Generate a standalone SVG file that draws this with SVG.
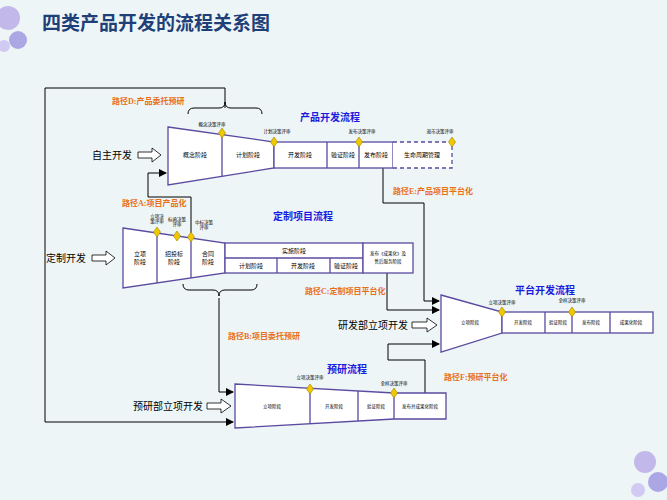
<svg xmlns="http://www.w3.org/2000/svg" width="667" height="500" viewBox="0 0 667 500">
<defs>
<marker id="ar" markerWidth="8" markerHeight="8" refX="7" refY="4" orient="auto" markerUnits="userSpaceOnUse"><path d="M0,0 L8,4 L0,8 z" fill="#000"/></marker>
<style>
.sh{fill:#fff;stroke:#5a4aa0;stroke-width:1.3}
.dv{stroke:#5a4aa0;stroke-width:1.3}
.t{font-family:"Liberation Serif","Noto Sans CJK SC",serif;font-size:6px;text-anchor:middle;fill:#000}
.s{font-family:"Liberation Serif","Noto Sans CJK SC",serif;font-size:4.5px;text-anchor:middle;fill:#000}
.ti{font-family:"Liberation Serif","Noto Sans CJK SC",serif;font-size:10px;font-weight:bold;text-anchor:middle;fill:#1a1ae0}
.p{font-family:"Liberation Serif","Noto Sans CJK SC",serif;font-size:8px;font-weight:bold;fill:#e8701a}
.in{font-family:"Liberation Serif","Noto Sans CJK SC",serif;font-size:10px;text-anchor:end;fill:#000}
.ln{fill:none;stroke:#000;stroke-width:1}
.dm{fill:#f0c800;stroke:#a08000;stroke-width:0.6}
.ha{fill:#fff;stroke:#000;stroke-width:0.8}
</style>
</defs>
<rect width="667" height="500" fill="#eef5f7"/>
<g id="decor">
<circle cx="8" cy="18" r="12" fill="#b7a9e6" opacity="0.8"/>
<circle cx="18" cy="40" r="9" fill="#8f86dc" opacity="0.7"/>
<circle cx="4" cy="46" r="6" fill="#c9bff0" opacity="0.8"/>
<circle cx="645" cy="462" r="11" fill="#b7a9e6" opacity="0.8"/>
<circle cx="658" cy="482" r="10" fill="#8f86dc" opacity="0.7"/>
<circle cx="638" cy="490" r="7" fill="#c9bff0" opacity="0.8"/>
</g>
<text x="42" y="30" font-family="'Noto Sans CJK SC',sans-serif" font-size="19" font-weight="bold" fill="#1f3f78">四类产品开发的流程关系图</text>

<g id="connectors">
<path class="ln" d="M225,108 V88 H45 V422 H233" marker-end="url(#ar)"/>
<path class="ln" d="M191,237 V197 H148 V173 H166" marker-end="url(#ar)"/>
<path class="ln" d="M219,298 V392 H233" marker-end="url(#ar)"/>
<path class="ln" d="M383,168 V203 H424 V301 H439" marker-end="url(#ar)"/>
<path class="ln" d="M387,273 V310 H439" marker-end="url(#ar)"/>
<path class="ln" d="M425,393 V360 H388 V344 H439" marker-end="url(#ar)"/>
<path class="ln" d="M188,114 Q188,108 194,108 H219 Q225,108 225,102 Q225,108 231,108 H256 Q262,108 262,114"/>
<path class="ln" d="M183,284 Q183,290 189,290 H213 Q219,290 219,296 Q219,290 225,290 H251 Q257,290 257,284"/>
</g>

<g id="labels">
<text class="p" x="112" y="104">路径D:产品委托预研</text>
<text class="p" x="122" y="206">路径A:项目产品化</text>
<text class="p" x="228" y="339">路径B:项目委托预研</text>
<text class="p" x="305" y="294">路径C:定制项目平台化</text>
<text class="p" x="393" y="194">路径E:产品项目平台化</text>
<text class="p" x="444" y="380">路径F:预研平台化</text>
</g>

<g id="product">
<text class="ti" x="330" y="121">产品开发流程</text>
<path class="sh" d="M168,127 L274,142 V168 L168,185 Z"/>
<line class="dv" x1="222" y1="134" x2="222" y2="177"/>
<rect class="sh" x="274" y="142" width="119" height="26"/>
<line class="dv" x1="327" y1="142" x2="327" y2="168"/>
<line class="dv" x1="359" y1="142" x2="359" y2="168"/>
<path d="M393,142 H452 V168 H393" fill="#fff" stroke="#5a4aa0" stroke-width="1.3" stroke-dasharray="4,3"/>
<text class="t" x="195" y="157">概念阶段</text>
<text class="t" x="248" y="157">计划阶段</text>
<text class="t" x="300" y="157">开发阶段</text>
<text class="t" x="343" y="157">验证阶段</text>
<text class="t" x="376" y="157">发布阶段</text>
<text class="t" x="422" y="157">生命周期管理</text>
<text class="s" x="212" y="126">概念决策评审</text>
<text class="s" x="277" y="133">计划决策评审</text>
<text class="s" x="362" y="133">发布决策评审</text>
<text class="s" x="440" y="133">退市决策评审</text>
<path class="dm" d="M222,128 l3.5,5 -3.5,5 -3.5,-5z"/>
<path class="dm" d="M274,137 l3.5,5 -3.5,5 -3.5,-5z"/>
<path class="dm" d="M359,137 l3.5,5 -3.5,5 -3.5,-5z"/>
<path class="dm" d="M452,137 l3.5,5 -3.5,5 -3.5,-5z"/>
<text class="in" x="132" y="159">自主开发</text>
<path class="ha" d="M138,152 H152 V148 L161,155 L152,162 V158 H138 Z"/>
</g>

<g id="custom">
<text class="ti" x="303" y="220">定制项目流程</text>
<path class="sh" d="M123,228 L225,243 V273 L123,288 Z"/>
<line class="dv" x1="157" y1="233" x2="157" y2="283"/>
<line class="dv" x1="191" y1="238" x2="191" y2="278"/>
<rect class="sh" x="225" y="243" width="138" height="30"/>
<line class="dv" x1="225" y1="258" x2="363" y2="258"/>
<line class="dv" x1="277" y1="258" x2="277" y2="273"/>
<line class="dv" x1="330" y1="258" x2="330" y2="273"/>
<rect class="sh" x="363" y="243" width="50" height="30"/>
<text class="t" x="140" y="256">立项</text><text class="t" x="140" y="264">阶段</text>
<text class="t" x="174" y="256">招投标</text><text class="t" x="174" y="264">阶段</text>
<text class="t" x="208" y="256">合同</text><text class="t" x="208" y="264">阶段</text>
<text class="t" x="294" y="253">实施阶段</text>
<text class="t" x="251" y="268">计划阶段</text>
<text class="t" x="303" y="268">开发阶段</text>
<text class="t" x="346" y="268">验证阶段</text>
<text class="s" x="388" y="255">发布《成果化》及</text>
<text class="s" x="388" y="263">售后服务阶段</text>
<text class="s" x="157" y="218">立项决</text><text class="s" x="157" y="223">策评审</text>
<text class="s" x="177" y="221">标函决策</text><text class="s" x="177" y="226">评审</text>
<text class="s" x="204" y="224">中标决策</text><text class="s" x="204" y="229">评审</text>
<path class="dm" d="M157,227 l3.5,5 -3.5,5 -3.5,-5z"/>
<path class="dm" d="M177,231 l3.5,5 -3.5,5 -3.5,-5z"/>
<path class="dm" d="M191,232 l3.5,5 -3.5,5 -3.5,-5z"/>
<text class="in" x="86" y="262">定制开发</text>
<path class="ha" d="M92,255 H106 V251 L115,258 L106,265 V261 H92 Z"/>
</g>

<g id="platform">
<text class="ti" x="545" y="294">平台开发流程</text>
<path class="sh" d="M441,295 L502,312 V333 L441,352 Z"/>
<rect class="sh" x="502" y="312" width="151" height="21"/>
<line class="dv" x1="545" y1="312" x2="545" y2="333"/>
<line class="dv" x1="572" y1="312" x2="572" y2="333"/>
<line class="dv" x1="610" y1="312" x2="610" y2="333"/>
<text class="s" x="470" y="324">立项阶段</text>
<text class="s" x="523" y="324">开发阶段</text>
<text class="s" x="558" y="324">验证阶段</text>
<text class="s" x="591" y="324">发布阶段</text>
<text class="s" x="631" y="324">成果化阶段</text>
<text class="s" x="502" y="304">立项决策评审</text>
<text class="s" x="572" y="302">全样决策评审</text>
<path class="dm" d="M502,307 l3.5,5 -3.5,5 -3.5,-5z"/>
<path class="dm" d="M572,307 l3.5,5 -3.5,5 -3.5,-5z"/>
<text class="in" x="408" y="329">研发部立项开发</text>
<path class="ha" d="M412,322 H427 V318 L437,325 L427,332 V328 H412 Z"/>
</g>

<g id="preresearch">
<text class="ti" x="347" y="373">预研流程</text>
<path class="sh" d="M235,384 L394,393 H446 V419 H394 L235,428 Z"/>
<line class="dv" x1="310" y1="389" x2="310" y2="424"/>
<line class="dv" x1="358" y1="391" x2="358" y2="421"/>
<line class="dv" x1="394" y1="393" x2="394" y2="419"/>
<text class="s" x="272" y="408">立项阶段</text>
<text class="s" x="334" y="408">开发阶段</text>
<text class="s" x="376" y="408">验证阶段</text>
<text class="s" x="420" y="408">发布并成果化阶段</text>
<text class="s" x="310" y="379">立项决策评审</text>
<text class="s" x="394" y="385">全样决策评审</text>
<path class="dm" d="M310,384 l3.5,5 -3.5,5 -3.5,-5z"/>
<path class="dm" d="M394,388 l3.5,5 -3.5,5 -3.5,-5z"/>
<text class="in" x="203" y="410">预研部立项开发</text>
<path class="ha" d="M207,403 H221 V399 L231,406 L221,413 V409 H207 Z"/>
</g>
</svg>
